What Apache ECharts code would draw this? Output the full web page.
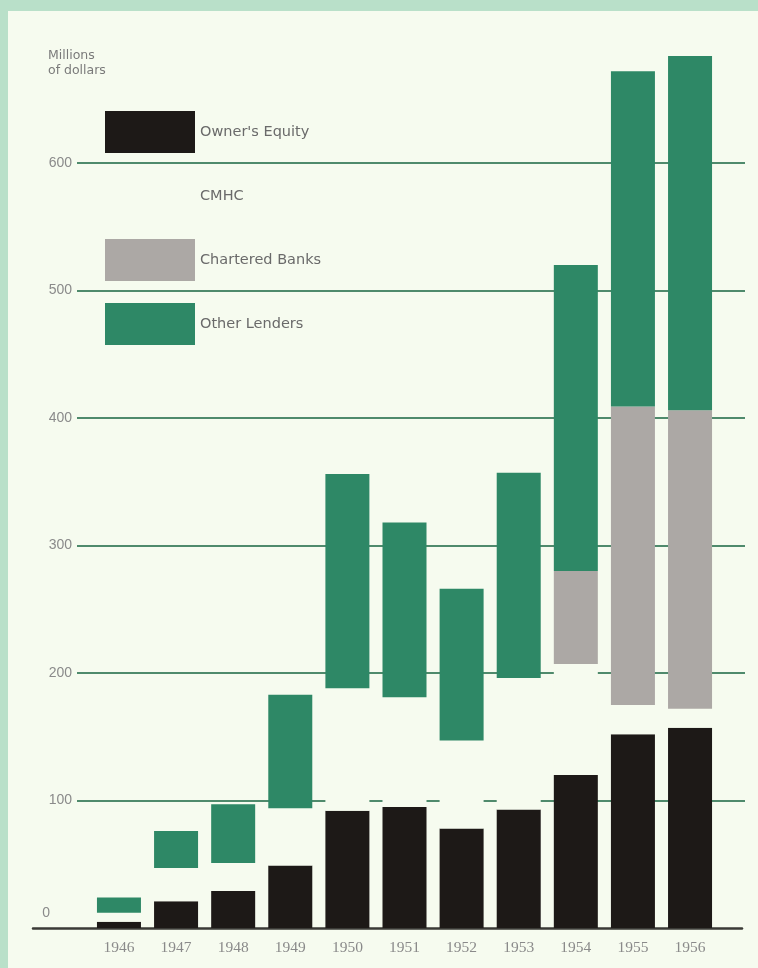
<!DOCTYPE html>
<html>
<head>
<meta charset="utf-8">
<script src="https://cdn.jsdelivr.net/npm/echarts@6/dist/echarts.min.js"></script>
<style>
html,body{margin:0;padding:0;background:#f6fbef;}
#chart{position:absolute;left:0;top:0;width:758px;height:968px;}
.frameTop{position:absolute;left:0;top:0;width:758px;height:11px;background:#b9e0c9;}
.frameLeft{position:absolute;left:0;top:0;width:8px;height:968px;background:#b9e0c9;}
</style>
</head>
<body>
<div id="chart"></div>
<div class="frameTop"></div>
<div class="frameLeft"></div>
<script>
const years = ['1946','1947','1948','1949','1950','1951','1952','1953','1954','1955','1956'];
const ownersEquity = [5, 21, 29, 49, 92, 95, 78, 93, 120, 152, 157];
const cmhc = [7, 26, 22, 45, 96, 86, 69, 103, 87, 23, 15];
const charteredBanks = [0, 0, 0, 0, 0, 0, 0, 0, 73, 234, 234];
const otherLenders = [12, 29, 46, 89, 168, 137, 119, 161, 240, 263, 278];
const yTicks = [0, 100, 200, 300, 400, 500, 600];

const PANEL = '#f6fbef';
const chart = echarts.init(document.getElementById('chart'));
const gTop = 35.5, gBottom = 40;
const labelFont = {fontFamily: 'Liberation Sans', fontSize: 14, color: '#8a8a8a'};

chart.setOption({
  backgroundColor: PANEL,
  animation: false,
  title: {
    text: 'Millions\nof dollars', left: 43, top: 43,
    textStyle: {fontFamily: 'DejaVu Sans', fontSize: 12.5, lineHeight: 15, color: '#7a7a7a', fontWeight: 'normal'}
  },
  legend: {
    orient: 'vertical', left: 100, top: 106,
    itemWidth: 90, itemHeight: 42, itemGap: 22,
    icon: 'rect',
    textStyle: {fontFamily: 'DejaVu Sans', fontSize: 14.5, color: '#6a6a6a'},
    data: ["Owner's Equity", 'CMHC', 'Chartered Banks', 'Other Lenders'],
    selectedMode: false
  },
  grid: [
    {left: 77, right: 13, top: gTop, bottom: gBottom},
    {left: 90.4, right: 39.4, top: gTop, bottom: gBottom},
    {left: 33, right: 16, top: gTop, bottom: gBottom}
  ],
  xAxis: [
    {gridIndex: 0, type: 'value', show: false, min: 0, max: 1},
    {gridIndex: 1, type: 'category', data: years,
      axisLine: {show: false}, axisTick: {show: false},
      axisLabel: {margin: 12, fontFamily: 'Liberation Serif', fontSize: 15.5, color: '#8a8a8a'}},
    {gridIndex: 2, type: 'value', min: 0, max: 1,
      axisLine: {show: true, lineStyle: {color: '#3a3a36', width: 2.5}},
      axisTick: {show: false}, axisLabel: {show: false}, splitLine: {show: false}}
  ],
  yAxis: [
    {gridIndex: 0, type: 'value', min: 0, max: 700, interval: 100,
      axisLine: {show: false}, axisTick: {show: false},
      splitLine: {show: true, showMinLine: false, showMaxLine: false, lineStyle: {color: '#4f8a6c', width: 1.8}},
      axisLabel: Object.assign({showMaxLabel: false, margin: 5,
        formatter: v => yTicks.indexOf(v) < 0 ? '' : (v === 0 ? '{z|0}' : String(v)),
        rich: {z: Object.assign({padding: [0, 22, 30, 0]}, labelFont)}}, labelFont)},
    {gridIndex: 1, type: 'value', min: 0, max: 700, interval: 100, show: false, splitLine: {show: false}},
    {gridIndex: 2, type: 'value', min: 0, max: 700, show: false, splitLine: {show: false}}
  ],
  series: [
    {name: "Owner's Equity", type: 'bar', stack: 't', xAxisIndex: 1, yAxisIndex: 1, barWidth: 44,
      itemStyle: {color: '#1d1917'}, data: ownersEquity},
    {name: 'CMHC', type: 'bar', stack: 't', xAxisIndex: 1, yAxisIndex: 1, barWidth: 44,
      itemStyle: {color: PANEL}, data: cmhc},
    {name: 'Chartered Banks', type: 'bar', stack: 't', xAxisIndex: 1, yAxisIndex: 1, barWidth: 44,
      itemStyle: {color: '#aca8a5'}, data: charteredBanks},
    {name: 'Other Lenders', type: 'bar', stack: 't', xAxisIndex: 1, yAxisIndex: 1, barWidth: 44,
      itemStyle: {color: '#2e8866'}, data: otherLenders}
  ]
});
</script>
</body>
</html>
